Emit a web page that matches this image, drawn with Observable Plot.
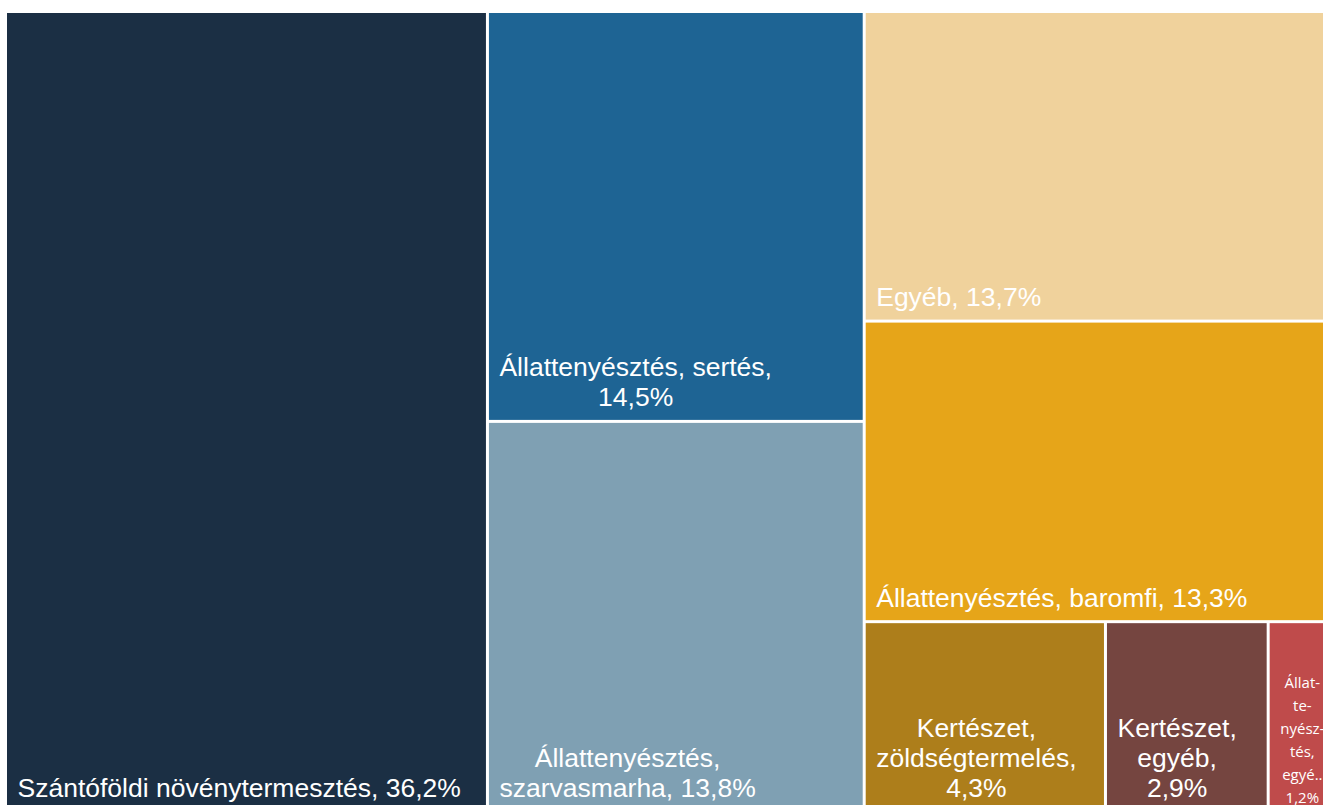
<!DOCTYPE html>
<html><head><meta charset="utf-8">
<script src="https://cdn.jsdelivr.net/npm/d3@7"></script>
<script src="https://cdn.jsdelivr.net/npm/@observablehq/plot@0.6"></script>
<style>
html,body{margin:0;padding:0;overflow:hidden;background:#fff;}
#chart svg{max-width:none !important;display:block;}
</style></head><body><div id="chart"></div>
<script>
const names = ["Szántóföldi növénytermesztés", "Állattenyésztés, sertés", "Állattenyésztés, szarvasmarha", "Egyéb", "Állattenyésztés, baromfi", "Kertészet, zöldségtermelés", "Kertészet, egyéb", "Állattenyésztés, egyéb"];
const values = [36.2, 14.5, 13.8, 13.7, 13.3, 4.3, 2.9, 1.2];
const columns = [0, 1, 1, 2, 2, 2, 2, 2];
const subgroups = [null, null, null, null, null, "bottom", "bottom", "bottom"];
const labels = ["Szántóföldi növénytermesztés, 36,2%", "Állattenyésztés, sertés,\n14,5%", "Állattenyésztés,\nszarvasmarha, 13,8%", "Egyéb, 13,7%", "Állattenyésztés, baromfi, 13,3%", "Kertészet,\nzöldségtermelés,\n4,3%", "Kertészet,\negyéb,\n2,9%", "Állat-\nte-\nnyész-\ntés,\negyé..\n1,2%"];
const colors = ["#1b2f44", "#1e6494", "#7fa0b3", "#f0d29c", "#e6a519", "#ad7e1b", "#754540", "#bf4b4b"];

// build hierarchy
const tree = {children: []};
names.forEach((name, i) => {
  const c = columns[i];
  const col = tree.children[c] || (tree.children[c] = {children: []});
  let parent = col;
  if (subgroups[i]) {
    let g = col.children.find(d => d.group === subgroups[i]);
    if (!g) { g = {group: subgroups[i], children: []}; col.children.push(g); }
    parent = g;
  }
  parent.children.push({name, value: values[i], i});
});
const W = 1327, H = 797;
const root = d3.hierarchy(tree).sum(d => d.children ? 0 : d.value);
d3.treemap().tile(d3.treemapSliceDice).size([W, H]).paddingInner(3)(root);
const leaves = root.leaves();

const ctx = document.createElement("canvas").getContext("2d");
const mainSize = 26.5;
const lineData = [];
leaves.forEach(leaf => {
  const i = leaf.data.i;
  const lines = labels[i].split("\n");
  const w = leaf.x1 - leaf.x0;
  const narrow = w < 90;
  const lh = narrow ? 23 : 30;
  const bottomPad = narrow ? 8 : 14;
  let cx;
  if (narrow) cx = (leaf.x0 + leaf.x1) / 2;
  else {
    ctx.font = mainSize + "px 'Liberation Sans'";
    const bw = d3.max(lines, l => ctx.measureText(l).width);
    const left = leaf.x0 + Math.min(10, Math.max(0, (w - bw) / 2));
    cx = left + bw / 2;
  }
  lines.forEach((t, k) => lineData.push({text: t, x: cx, y: leaf.y1 - bottomPad - (lines.length - 1 - k) * lh, narrow}));
});

const plot = Plot.plot({
  width: 1334, height: 810,
  marginLeft: 7, marginRight: 0, marginTop: 13, marginBottom: 0,
  x: {domain: [0, W], axis: null},
  y: {domain: [0, H], reverse: true, axis: null},
  color: {domain: names, range: colors},
  style: {background: "white", overflow: "visible"},
  marks: [
    Plot.rect(leaves, {x1: "x0", x2: "x1", y1: "y0", y2: "y1", fill: d => names[d.data.i]}),
    Plot.text(lineData.filter(d => !d.narrow), {x: "x", y: "y", text: "text", fill: "white", fontSize: mainSize, fontFamily: "'Liberation Sans', Arial, sans-serif", textAnchor: "middle", lineAnchor: "bottom"}),
    Plot.text(lineData.filter(d => d.narrow), {x: "x", y: "y", text: "text", fill: "white", fontSize: 15, fontFamily: "'Open Sans', sans-serif", textAnchor: "middle", lineAnchor: "bottom"})
  ]
});
document.getElementById("chart").appendChild(plot);
</script>
</body></html>
